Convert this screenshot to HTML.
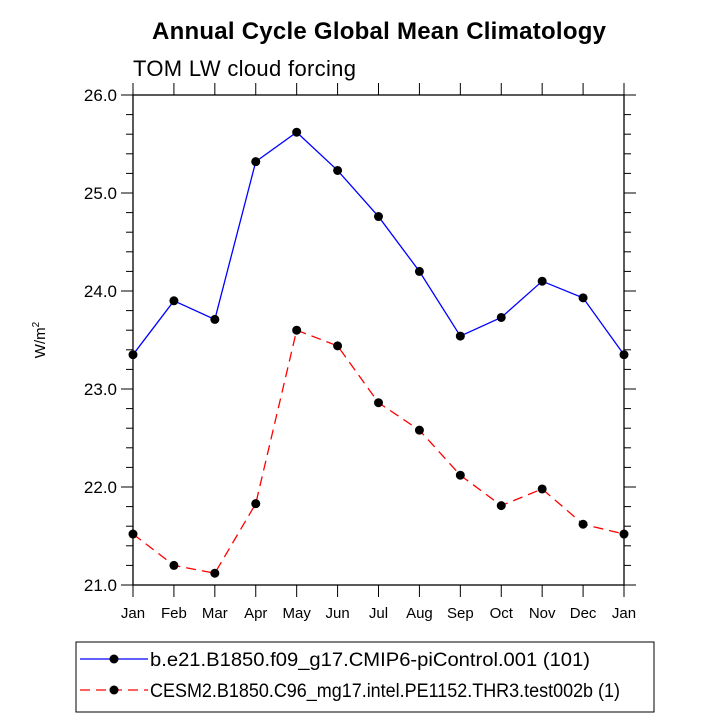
<!DOCTYPE html>
<html><head><meta charset="utf-8"><style>body{margin:0;background:#fff}svg{display:block;font-family:"Liberation Sans",Arial,sans-serif}</style></head>
<body>
<svg id="c" width="727" height="727" viewBox="0 0 727 727">
<text x="379" y="39" text-anchor="middle" font-size="24" font-weight="bold" textLength="454">Annual Cycle Global Mean Climatology</text>
<text x="133" y="76" font-size="22" textLength="223">TOM LW cloud forcing</text>
<text transform="translate(45,340) rotate(-90)" text-anchor="middle" font-size="15">W/m<tspan dy="-6" font-size="10">2</tspan></text>
<g id="plot"></g>
<rect x="76" y="642" width="578" height="70" fill="none" stroke="#000" stroke-width="1"/>
<g>
<line x1="80" y1="659" x2="148" y2="659" stroke="#00f" stroke-width="1.3"/><circle cx="114" cy="659" r="4.5"/>
<text x="150" y="666" font-size="19" textLength="440" lengthAdjust="spacingAndGlyphs">b.e21.B1850.f09_g17.CMIP6-piControl.001 (101)</text></g>
<g>
<line x1="80" y1="690" x2="148" y2="690" stroke="#f00" stroke-width="1.3" stroke-dasharray="10,6"/><circle cx="114" cy="690" r="4.5"/>
<text x="150" y="697" font-size="19" textLength="470" lengthAdjust="spacingAndGlyphs">CESM2.B1850.C96_mg17.intel.PE1152.THR3.test002b (1)</text></g>
</svg>
<script>
const months=["Jan","Feb","Mar","Apr","May","Jun","Jul","Aug","Sep","Oct","Nov","Dec","Jan"];
const blueValues=[23.35,23.9,23.71,25.32,25.62,25.23,24.76,24.2,23.54,23.73,24.1,23.93,23.35];
const redValues=[21.52,21.2,21.12,21.83,23.6,23.44,22.86,22.58,22.12,21.81,21.98,21.62,21.52];
const yTicks=["21.0","22.0","23.0","24.0","25.0","26.0"];
const X0=133,X1=624,Y0=585,Y1=95,ymin=21,ymax=26;
const xs=i=>X0+(X1-X0)*i/(months.length-1);
const ys=v=>Y0-(v-ymin)/(ymax-ymin)*(Y0-Y1);
const NS="http://www.w3.org/2000/svg",g=document.getElementById('plot');
function mk(t,a){const e=document.createElementNS(NS,t);for(const k in a)e.setAttribute(k,a[k]);g.appendChild(e);return e;}
let e=mk('rect',{x:X0,y:Y1,width:X1-X0,height:Y0-Y1,fill:'none',stroke:'#000','stroke-width':1.3});


for(let v=ymin;v<=ymax+1e-6;v+=0.2){const y=ys(v);const maj=Math.abs(v-Math.round(v))<1e-6;const L=maj?12:7;
mk('line',{x1:X0-L,y1:y,x2:X0,y2:y,stroke:'#000'});mk('line',{x1:X1,y1:y,x2:X1+L,y2:y,stroke:'#000'});}
yTicks.forEach(t=>{const el=mk('text',{x:X0-16,y:ys(+t)+6,'text-anchor':'end','font-size':17});el.textContent=t;

});
months.forEach((m,i)=>{const x=xs(i);mk('line',{x1:x,y1:Y0,x2:x,y2:Y0+12,stroke:'#000'});mk('line',{x1:x,y1:Y1,x2:x,y2:Y1-12,stroke:'#000'});
const el=mk('text',{x:x,y:Y0+33,'text-anchor':'middle','font-size':15});el.textContent=m;

});
function series(vals,col,dash,name){const p=mk('polyline',{points:vals.map((v,i)=>xs(i)+','+ys(v)).join(' '),fill:'none',stroke:col,'stroke-width':1.3,'stroke-dasharray':dash});


vals.forEach((v,i)=>{const c=mk('circle',{cx:xs(i),cy:ys(v),r:4.5,fill:'#000'});

});}
series(blueValues,'#00f','none','blue-series');
series(redValues,'#f00','10,6','red-series');
</script>
</body></html>
